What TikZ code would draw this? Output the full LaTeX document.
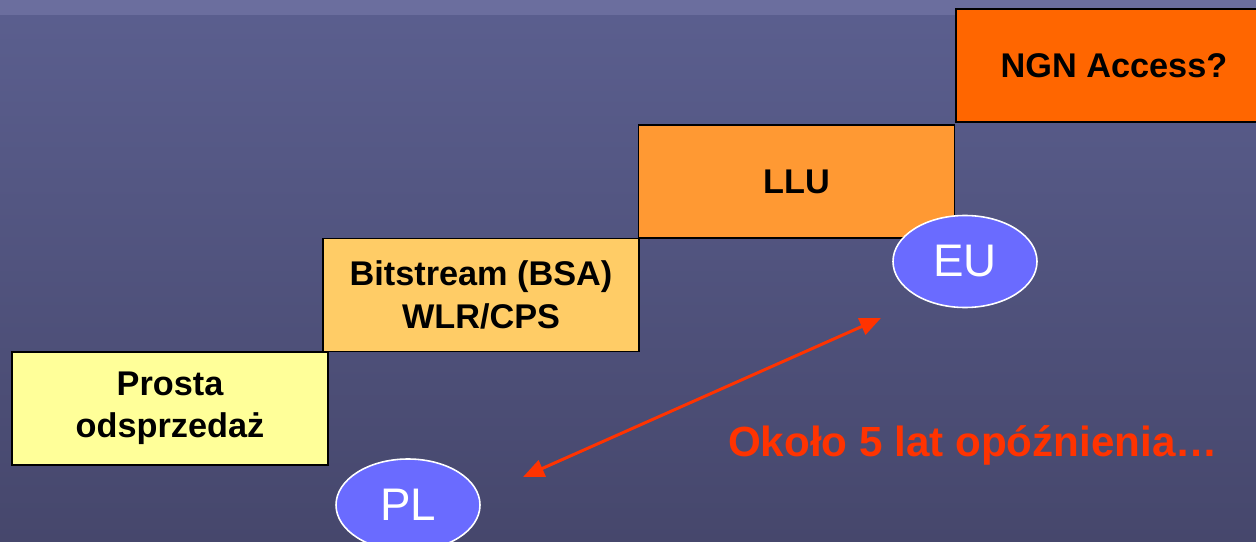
\documentclass[tikz,border=0pt]{standalone}
\usepackage{fontspec}
\setmainfont{Liberation Sans}
\usetikzlibrary{shapes.geometric}
\usetikzlibrary{arrows.meta}

\definecolor{bgtop}{HTML}{5B5F8F}
\definecolor{bgbot}{HTML}{46476C}
\definecolor{bgstrip}{HTML}{6B6E9E}
\definecolor{resale}{HTML}{FFFF99}
\definecolor{bitstream}{HTML}{FFCC66}
\definecolor{llu}{HTML}{FF9933}
\definecolor{ngn}{HTML}{FF6600}
\definecolor{landblue}{HTML}{6A6BFF}
\definecolor{delayred}{HTML}{FF3300}

\tikzset{
  stage/.style={draw=black, line width=1.1pt, minimum width=6.32cm, minimum height=2.26cm,
    align=center, font=\fontsize{19.5}{24}\selectfont\bfseries},
  land/.style={ellipse, draw=white, line width=0.9pt, fill=landblue, text=white,
    minimum width=2.88cm, minimum height=1.84cm, inner sep=0pt, font=\fontsize{26}{30}\selectfont},
}

\begin{document}
\begin{tikzpicture}
    \useasboundingbox (0,0) rectangle (25.12,10.82);
    \clip (0,0) rectangle (25.12,10.82);

    %Background
    \fill[top color=bgtop, bottom color=bgbot] (0,0) rectangle (25.12,10.82);
    \fill[bgstrip] (0,10.52) rectangle (25.12,10.82);

    % Stairs
    \node[stage, fill=resale] (resale) at (3.40,2.65) {Prosta\\odsprzedaż};
    \node[stage, fill=bitstream] (bsa) at (9.62,4.92) {Bitstream (BSA)\\WLR/CPS};
    \node[stage, fill=llu] (llu) at (15.93,7.19) {LLU};
    \node[stage, fill=ngn] (ngn) at (22.28,9.51) {NGN Access?};

    % Countries
    \node[land] (eu) at (19.30,5.59) {EU};
    \node[land] (pl) at (8.16,0.72) {PL};

    % Delay
    \coordinate (plend) at (10.46,1.28);
    \coordinate (euend) at (17.62,4.46);
    \draw[delayred, line width=1.7pt, {Triangle[length=12pt,width=10pt]}-{Triangle[length=12pt,width=10pt]}] (plend) -- (euend);
    \node[anchor=base, text=delayred, font=\fontsize{24}{28}\selectfont\bfseries] (delay) at (19.46,1.70) {Około 5 lat opóźnienia…};
\end{tikzpicture}
\end{document}
